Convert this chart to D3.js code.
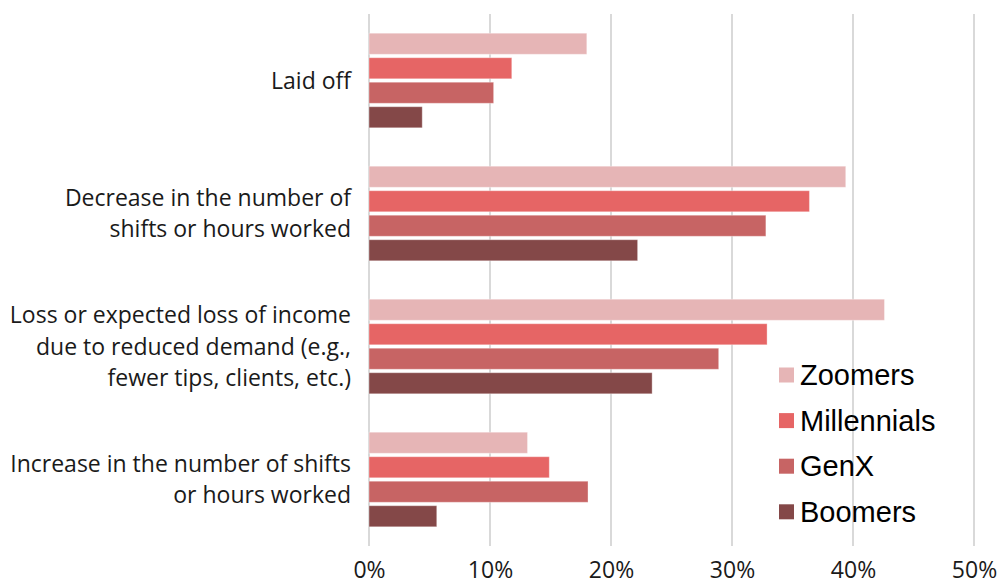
<!DOCTYPE html>
<html>
<head>
<meta charset="utf-8">
<script src="https://cdn.jsdelivr.net/npm/d3@7"></script>
<style>
  html, body { margin: 0; padding: 0; background: #fff; }
  svg { display: block; }
</style>
</head>
<body>
<div id="main"></div>
<script>
const W = 997;
const H = 585;

// data
var categories = [
    ["Laid off"],
    ["Decrease in the number of", "shifts or hours worked"],
    ["Loss or expected loss of income", "due to reduced demand (e.g.,", "fewer tips, clients, etc.)"],
    ["Increase in the number of shifts", "or hours worked"]
];
var series = ["Zoomers", "Millennials", "GenX", "Boomers"];
var zoomers     = [18.0, 39.4, 42.6, 13.1];
var millennials = [11.8, 36.4, 32.9, 14.9];
var genx        = [10.3, 32.8, 28.9, 18.1];
var boomers     = [4.4, 22.2, 23.4, 5.6];
var xTicks = [0, 10, 20, 30, 40, 50];

var values = [zoomers, millennials, genx, boomers];
var colors = ["#E6B5B6", "#E66565", "#C76464", "#844848"];

var ctx = {
    left: 369,
    right: 974,
    top: 14,
    bottom: 546,
};

var catKeys = categories.map(function(c){ return c.join(" "); });

var x = d3.scaleLinear().domain([0, 50]).range([ctx.left, ctx.right]);
var y = d3.scaleBand().domain(catKeys).range([ctx.top, ctx.bottom]);
var inner = d3.scaleBand().domain(series).range([0, 98]).paddingInner(0.14).paddingOuter(0.07);
var color = d3.scaleOrdinal().domain(series).range(colors);

var svgEl = d3.select("#main").append("svg")
    .attr("width", W)
    .attr("height", H);

// gridlines
svgEl.append("g")
    .selectAll("line")
    .data(xTicks)
    .enter()
    .append("line")
    .attr("x1", function(d){ return x(d); })
    .attr("x2", function(d){ return x(d); })
    .attr("y1", ctx.top)
    .attr("y2", ctx.bottom)
    .style("stroke", "#D9D9D9")
    .style("stroke-width", 2);

// bars
var groupOffset = (y.bandwidth() - 98) / 2;
var groups = svgEl.append("g")
    .selectAll("g")
    .data(catKeys)
    .enter()
    .append("g")
    .attr("transform", function(d){ return "translate(0," + (y(d) + groupOffset) + ")"; });

groups.selectAll("rect")
    .data(function(d, i){
        return series.map(function(s, j){ return {s: s, v: values[j][i]}; });
    })
    .enter()
    .append("rect")
    .attr("x", x(0))
    .attr("y", function(d){ return inner(d.s); })
    .attr("width", function(d){ return x(d.v) - x(0); })
    .attr("height", inner.bandwidth())
    .style("fill", function(d){ return color(d.s); })
    .style("stroke", "#fff")
    .style("stroke-opacity", 0.35)
    .style("stroke-width", 1);

// x axis labels
var xAxis = d3.axisBottom(x)
    .tickValues(xTicks)
    .tickSize(0)
    .tickPadding(0)
    .tickFormat(function(d){ return d + "%"; });

var axG = svgEl.append("g")
    .attr("transform", "translate(0,578)")
    .call(xAxis);
axG.select(".domain").remove();
axG.selectAll("text")
    .attr("dy", 0)
    .attr("y", 0)
    .style("font-family", "'Open Sans', sans-serif")
    .style("font-size", "23px")
    .style("fill", "#1a1a1a");

// category labels
var lineH = 31.5;
svgEl.append("g")
    .selectAll("text")
    .data(categories)
    .enter()
    .append("text")
    .attr("text-anchor", "end")
    .style("font-family", "'Open Sans', sans-serif")
    .style("font-size", "23px")
    .style("fill", "#1a1a1a")
    .each(function(lines, i){
        var cy = y(catKeys[i]) + y.bandwidth() / 2;
        var t0 = cy - (lines.length - 1) * lineH / 2;
        d3.select(this).selectAll("tspan")
            .data(lines)
            .enter()
            .append("tspan")
            .attr("x", 351)
            .attr("y", function(d, k){ return t0 + k * lineH + 8; })
            .text(function(d){ return d; });
    });

// legend
var legend = svgEl.append("g")
    .selectAll("g")
    .data(series)
    .enter()
    .append("g")
    .attr("transform", function(d, i){ return "translate(779," + (375 + i * 45.6) + ")"; });

legend.append("rect")
    .attr("x", 0)
    .attr("y", -7.5)
    .attr("width", 15)
    .attr("height", 15)
    .style("fill", function(d){ return color(d); });

legend.append("text")
    .attr("x", 21)
    .attr("y", 10)
    .style("font-family", "'Liberation Sans', Arial, sans-serif")
    .style("font-size", "29px")
    .style("fill", "#000")
    .text(function(d){ return d; });
</script>
</body>
</html>
